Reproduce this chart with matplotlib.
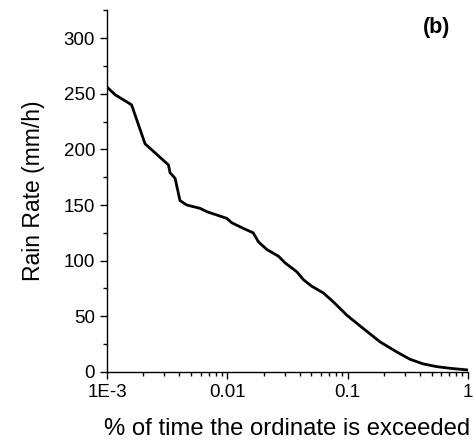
import matplotlib.pyplot as plt
from matplotlib.ticker import MultipleLocator, FixedLocator, LogLocator, NullFormatter

plt.rcParams['font.family'] = ['Liberation Sans', 'DejaVu Sans']

# % of time exceeded vs rain rate
pct_time = [0.001, 0.00117, 0.0016, 0.00207, 0.00324, 0.00334, 0.00368, 0.00404,
            0.0046, 0.00593, 0.00675, 0.00989, 0.0109, 0.0136, 0.0164, 0.0181,
            0.0213, 0.0266, 0.0302, 0.0378, 0.0428, 0.0503, 0.0628, 0.076,
            0.0984, 0.135, 0.186, 0.256, 0.330, 0.426, 0.550, 0.710, 1.0]
rain_rate = [256, 249, 240, 205, 186, 179, 174, 154,
             150, 147, 144, 138, 134, 129, 125, 117,
             110, 104, 98, 90, 83, 77, 71, 63,
             51, 39, 27, 18, 11.4, 7.2, 4.8, 3.3, 1.8]

xtick_vals = [0.001, 0.01, 0.1, 1]
xtick_labels = ['1E-3', '0.01', '0.1', '1']

fig = plt.figure(figsize=(4.76, 4.43), dpi=100)
ax = fig.add_axes([0.2248, 0.1603, 0.7584, 0.8167])

ax.plot(pct_time, rain_rate, color='black', linewidth=2.0)

ax.set_xscale('log')
ax.set_xlim(0.001, 1)
ax.set_ylim(0, 325)

ax.xaxis.set_major_locator(FixedLocator(xtick_vals))
ax.set_xticklabels(xtick_labels)
ax.xaxis.set_minor_locator(LogLocator(base=10, subs=range(2, 10)))
ax.xaxis.set_minor_formatter(NullFormatter())
ax.yaxis.set_major_locator(MultipleLocator(50))
ax.yaxis.set_minor_locator(MultipleLocator(25))

ax.spines['top'].set_visible(False)
ax.spines['right'].set_visible(False)
for s in ['left', 'bottom']:
    ax.spines[s].set_linewidth(1.0)

ax.tick_params(which='major', direction='out', length=5, width=1.0, labelsize=13.5)
ax.tick_params(which='minor', direction='out', length=3, width=1.0)

ax.set_ylabel('Rain Rate (mm/h)', fontsize=16.5)
ax.yaxis.set_label_coords(-0.172, 0.5)
ax.set_xlabel('% of time the ordinate is exceeded', fontsize=17.2)
ax.xaxis.set_label_coords(0.5, -0.126)

ax.text(0.914, 0.953, '(b)', transform=ax.transAxes, fontsize=15.5,
        fontweight='bold', ha='center', va='center')

plt.savefig('out.png', dpi=100)
